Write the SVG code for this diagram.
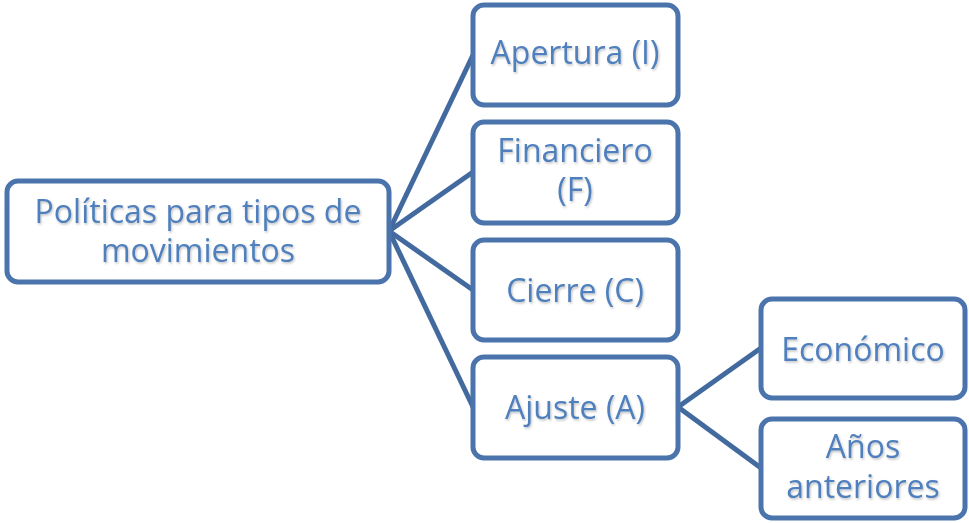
<svg xmlns="http://www.w3.org/2000/svg" width="969" height="523" viewBox="0 0 969 523">
  <defs>
    <filter id="ts" x="-10%" y="-20%" width="120%" height="140%">
      <feDropShadow dx="1" dy="1.5" stdDeviation="1" flood-color="#000" flood-opacity="0.25"/>
    </filter>
  </defs>
  <style>
    .box { fill: #ffffff; stroke: #4a74ab; stroke-width: 5; }
    .lbl { font-family: "Open Sans", "Liberation Sans", sans-serif; font-size: 32px; fill: #4f7fbc; text-anchor: middle; filter: url(#ts); }
    .conn { stroke: #426a9e; stroke-width: 5; fill: none; }
  </style>
  <rect width="969" height="523" fill="#ffffff"/>
  <g id="connectors">
    <line class="conn" x1="389" y1="231" x2="473" y2="55"/>
    <line class="conn" x1="389" y1="231" x2="473" y2="172"/>
    <line class="conn" x1="389" y1="231" x2="473" y2="290"/>
    <line class="conn" x1="389" y1="231" x2="473" y2="407"/>
    <line class="conn" x1="678" y1="407" x2="761" y2="348"/>
    <line class="conn" x1="678" y1="407" x2="761" y2="468"/>
  </g>
  <g id="root">
    <rect class="box" x="7" y="181" width="382" height="101" rx="11"/>
    <text class="lbl" x="198" y="223">Políticas para tipos de</text>
    <text class="lbl" x="198" y="262">movimientos</text>
  </g>
  <g id="apertura">
    <rect class="box" x="473" y="5" width="205" height="100" rx="11"/>
    <text class="lbl" x="575" y="64">Apertura (I)</text>
  </g>
  <g id="financiero">
    <rect class="box" x="473" y="122" width="205" height="101" rx="11"/>
    <text class="lbl" x="575" y="162">Financiero</text>
    <text class="lbl" x="575" y="201">(F)</text>
  </g>
  <g id="cierre">
    <rect class="box" x="473" y="240" width="205" height="100" rx="11"/>
    <text class="lbl" x="575" y="302">Cierre (C)</text>
  </g>
  <g id="ajuste">
    <rect class="box" x="473" y="357" width="205" height="101" rx="11"/>
    <text class="lbl" x="575" y="419">Ajuste (A)</text>
  </g>
  <g id="economico">
    <rect class="box" x="761" y="299" width="204" height="99" rx="11"/>
    <text class="lbl" x="863" y="361">Económico</text>
  </g>
  <g id="anos">
    <rect class="box" x="761" y="419" width="204" height="99" rx="11"/>
    <text class="lbl" x="863" y="458">Años</text>
    <text class="lbl" x="863" y="498">anteriores</text>
  </g>
</svg>
